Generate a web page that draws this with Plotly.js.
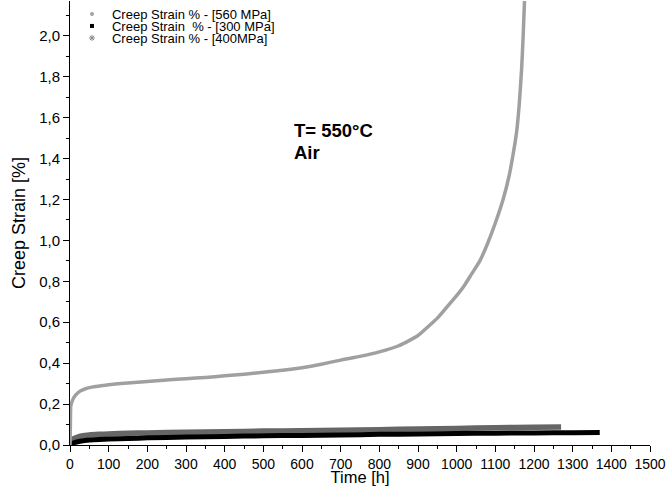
<!DOCTYPE html>
<html>
<head>
<meta charset="utf-8">
<script src="https://cdn.plot.ly/plotly-3.0.1.min.js"></script>
<style>html,body{margin:0;padding:0;background:#fff}#chart{width:670px;height:486px}</style>
</head>
<body>
<div id="chart"></div>
<script>
// Creep strain data (time in hours, strain in %)
const t560 = [0, 1, 2, 4, 8, 15, 25, 40, 60, 80, 100, 150, 200, 250, 300, 350, 400, 450, 500, 550, 600, 650, 700, 750, 800, 850, 900, 930, 950, 975, 1000, 1020, 1040, 1060, 1080, 1100, 1120, 1135, 1145, 1155, 1162, 1168, 1172, 1176];
const s560 = [0, 0.1, 0.19, 0.205, 0.225, 0.245, 0.262, 0.275, 0.284, 0.29, 0.295, 0.303, 0.31, 0.318, 0.324, 0.33, 0.338, 0.346, 0.355, 0.365, 0.378, 0.395, 0.415, 0.433, 0.455, 0.485, 0.535, 0.585, 0.62, 0.675, 0.73, 0.78, 0.84, 0.9, 0.985, 1.085, 1.2, 1.31, 1.41, 1.53, 1.67, 1.84, 2.0, 2.2];

const t300 = [0, 5, 10, 20, 30, 50, 75, 100, 150, 200, 300, 400, 500, 600, 700, 800, 900, 1000, 1100, 1200, 1300, 1370];
const s300 = [0, 0.006, 0.011, 0.016, 0.02, 0.024, 0.027, 0.029, 0.032, 0.035, 0.039, 0.042, 0.045, 0.047, 0.049, 0.052, 0.054, 0.056, 0.058, 0.059, 0.06, 0.061];

const t400 = [0, 3, 6, 10, 20, 30, 50, 75, 100, 150, 200, 300, 400, 500, 600, 700, 800, 900, 1000, 1100, 1200, 1270];
const s400 = [0, 0.015, 0.024, 0.031, 0.039, 0.044, 0.049, 0.052, 0.054, 0.057, 0.059, 0.062, 0.065, 0.068, 0.07, 0.072, 0.075, 0.078, 0.081, 0.084, 0.087, 0.088];

const legendNames = ['Creep Strain % - [560 MPa]', 'Creep Strain  % - [300 MPa]', 'Creep Strain % - [400MPa]'];
const annText = ['T= 550°C', 'Air'];

const c560 = '#a0a0a0', c300 = '#000000', c400 = '#666666';
const FONT = 'Arial, "Liberation Sans", sans-serif';

const traces = [
  {x: t400, y: s400, mode: 'lines', line: {color: c400, width: 5.5, shape: 'spline', smoothing: 0.6}, showlegend: false, hoverinfo: 'skip'},
  {x: t300, y: s300, mode: 'lines', line: {color: c300, width: 5, shape: 'spline', smoothing: 0.6}, showlegend: false, hoverinfo: 'skip'},
  {x: t560, y: s560, mode: 'lines', line: {color: c560, width: 3.5, shape: 'spline', smoothing: 0.6}, showlegend: false, hoverinfo: 'skip'},
  {x: [null], y: [null], mode: 'markers', name: legendNames[0], legend: 'legend', marker: {color: c560, size: 4, symbol: 'circle'}},
  {x: [null], y: [null], mode: 'markers', name: legendNames[1], legend: 'legend2', marker: {color: c300, size: 4, symbol: 'square'}},
  {x: [null], y: [null], mode: 'markers', name: legendNames[2], legend: 'legend3', marker: {color: '#888888', size: 5, symbol: 'asterisk-open', line: {color: '#888888', width: 1}}}
];

// plot area: top 1px, height 444px; legend boxes anchored by their top edge
function rowY(px) { return 1 - (px - 1) / 444; }
function mkLegend(pyTop) {
  return {x: 0.0034, y: rowY(pyTop), xanchor: 'left', yanchor: 'top', bgcolor: 'rgba(0,0,0,0)',
          font: {size: 13, family: FONT, color: '#000'}, itemwidth: 30};
}

const layout = {
  width: 670, height: 486,
  margin: {l: 70, r: 20, t: 1, b: 41, autoexpand: false},
  paper_bgcolor: '#fff', plot_bgcolor: '#fff',
  separators: ', ',
  font: {family: FONT, color: '#000', size: 15},
  showlegend: true,
  legend: mkLegend(-1),
  legend2: mkLegend(11),
  legend3: mkLegend(23),
  xaxis: {
    range: [0, 1500], dtick: 100, tick0: 0,
    showline: true, linecolor: '#000', linewidth: 1,
    ticks: 'outside', ticklen: 6, tickcolor: '#000', tickwidth: 1,
    minor: {ticks: 'outside', ticklen: 3, dtick: 50, tickcolor: '#000', showgrid: false},
    showgrid: false, zeroline: false,
    tickfont: {size: 14},
    title: {text: 'Time [h]', font: {size: 16.5}, standoff: 0}
  },
  yaxis: {
    range: [0, 2.17], dtick: 0.2, tick0: 0, tickformat: '.1f',
    showline: true, linecolor: '#000', linewidth: 1,
    ticks: 'outside', ticklen: 6, tickcolor: '#000', tickwidth: 1,
    minor: {ticks: 'outside', ticklen: 3, dtick: 0.1, tickcolor: '#000', showgrid: false},
    showgrid: false, zeroline: false,
    tickfont: {size: 15},
    title: {text: 'Creep Strain [%]', font: {size: 18}, standoff: 8}
  },
  annotations: [
    {x: 574, y: 1.535, xref: 'x', yref: 'y', xanchor: 'left', yanchor: 'middle', showarrow: false,
     text: '<b>' + annText[0] + '</b>', font: {size: 18.5, color: '#000', family: FONT}},
    {x: 574, y: 1.43, xref: 'x', yref: 'y', xanchor: 'left', yanchor: 'middle', showarrow: false,
     text: '<b>' + annText[1] + '</b>', font: {size: 18.5, color: '#000', family: FONT}}
  ]
};

Plotly.newPlot('chart', traces, layout, {displayModeBar: false, staticPlot: true});
</script>
</body>
</html>
